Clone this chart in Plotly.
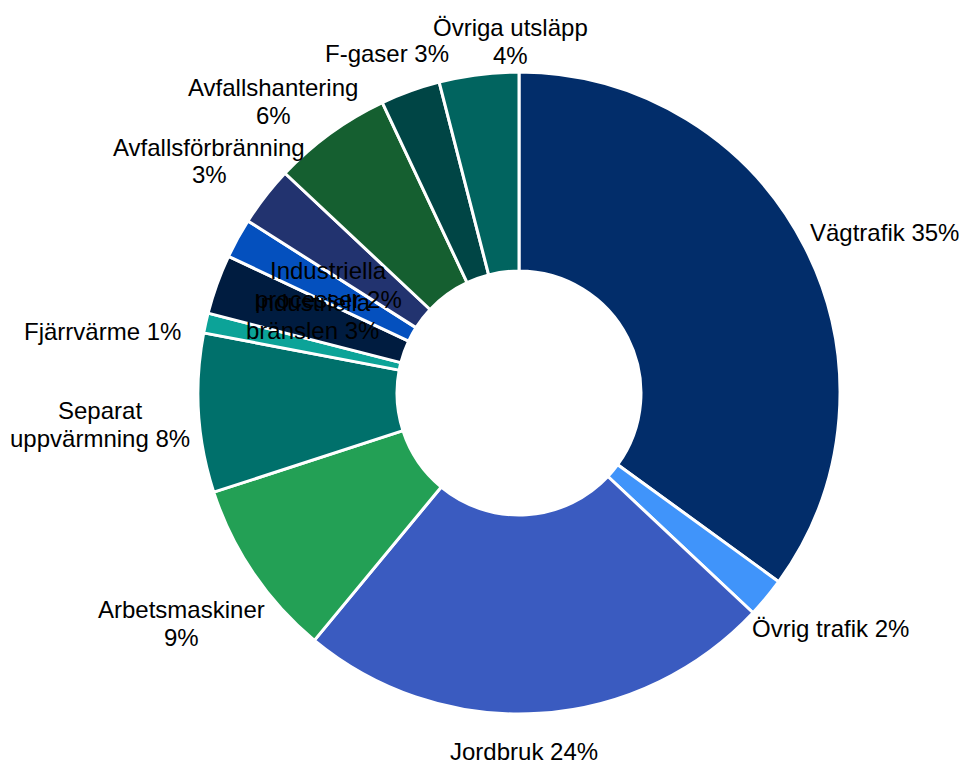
import plotly.graph_objects as go

# Emission shares by sector (percent)
sectors = [
    "Vägtrafik", "Övrig trafik", "Jordbruk", "Arbetsmaskiner",
    "Separat uppvärmning", "Fjärrvärme", "Industriella bränslen",
    "Industriella processer", "Avfallsförbränning", "Avfallshantering",
    "F-gaser", "Övriga utsläpp",
]
shares = [35, 2, 24, 9, 8, 1, 3, 2, 3, 6, 3, 4]

# Label lines for each sector; the percentage is appended to the last line,
# or put on its own line when the last entry is empty
label_lines = [
    ["Vägtrafik"], ["Övrig trafik"], ["Jordbruk"], ["Arbetsmaskiner", ""],
    ["Separat", "uppvärmning"], ["Fjärrvärme"], ["Industriella", "bränslen"],
    ["Industriella", "processer"], ["Avfallsförbränning", ""], ["Avfallshantering", ""],
    ["F-gaser"], ["Övriga utsläpp", ""],
]

colors = [
    "#022D6A", "#4094FA", "#3A5BC0", "#23A055", "#00706B", "#0CA398",
    "#001C40", "#0450BE", "#22336F", "#155F30", "#004545", "#01645F",
]

W, H = 959, 762
FONT = dict(family="Liberation Sans, Arial, sans-serif", size=24, color="#000000")
LINE_GAP = 28

# Label block centres in pixels (x, y, horizontal anchor)
label_pos = [
    (808, 232, "left"), (750, 628, "left"), (524, 751, "center"),
    (181, 623, "center"), (100, 424, "center"), (102, 331, "center"),
    (312, 316, "center"), (328, 285, "center"), (209, 161, "center"),
    (273, 101, "center"), (387, 54, "center"), (510, 42, "center"),
]

# Donut geometry in pixels
cx, cy, radius = 519, 393, 321

fig = go.Figure(
    go.Pie(
        labels=sectors,
        values=shares,
        sort=False,
        direction="clockwise",
        rotation=0,
        hole=0.38,
        marker=dict(colors=colors, line=dict(color="white", width=3)),
        textinfo="none",
        hoverinfo="label+percent",
        domain=dict(
            x=[(cx - radius) / W, (cx + radius) / W],
            y=[1 - (cy + radius) / H, 1 - (cy - radius) / H],
        ),
        showlegend=False,
    )
)

annotations = []
for lines, val, (px, py, anchor) in zip(label_lines, shares, label_pos):
    lines = list(lines)
    if lines[-1] == "":
        lines[-1] = f"{val}%"
    else:
        lines[-1] = f"{lines[-1]} {val}%"
    n = len(lines)
    for i, line in enumerate(lines):
        ly = py + (i - (n - 1) / 2) * LINE_GAP
        annotations.append(
            dict(
                x=px / W, y=1 - ly / H, xref="paper", yref="paper",
                text=line, showarrow=False,
                xanchor=anchor, yanchor="middle", align="center",
                font=FONT,
            )
        )

fig.update_layout(
    width=W, height=H,
    margin=dict(l=0, r=0, t=0, b=0),
    paper_bgcolor="white", plot_bgcolor="white",
    annotations=annotations,
)

fig.write_html("out.html")
